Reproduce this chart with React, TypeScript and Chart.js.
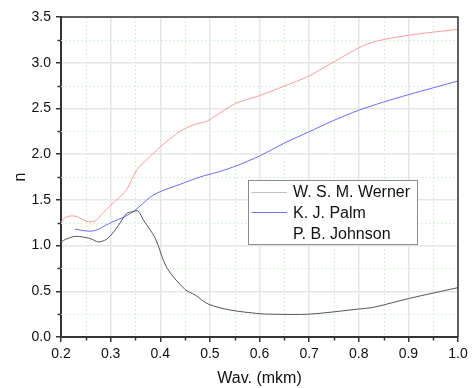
import React, { useEffect, useRef } from 'react';
import { Chart, registerables } from 'chart.js';

Chart.register(...registerables);

// ---- data ----
const seriesLabels = ['W. S. M. Werner', 'K. J. Palm', 'P. B. Johnson'];

const wernerX = [0.2, 0.21, 0.228, 0.248, 0.262, 0.275, 0.292, 0.312, 0.332, 0.345, 0.355, 0.366, 0.39, 0.413, 0.45, 0.47, 0.497, 0.541, 0.6, 0.62, 0.7, 0.8, 0.83, 0.9, 1.0];
const wernerN = [1.04, 1.07, 1.1, 1.09, 1.07, 1.04, 1.07, 1.19, 1.35, 1.37, 1.38, 1.28, 1.08, 0.76, 0.52, 0.46, 0.36, 0.295, 0.255, 0.25, 0.25, 0.306, 0.325, 0.42, 0.54];

const palmX = [0.228, 0.25, 0.265, 0.28, 0.3, 0.33, 0.35, 0.38, 0.4, 0.44, 0.48, 0.52, 0.557, 0.6, 0.65, 0.7, 0.75, 0.8, 0.85, 0.9, 1.0];
const palmN = [1.18, 1.16, 1.16, 1.19, 1.25, 1.32, 1.39, 1.53, 1.59, 1.67, 1.75, 1.81, 1.88, 1.98, 2.12, 2.245, 2.37, 2.48, 2.57, 2.65, 2.8];

const johnsonX = [0.2, 0.205, 0.215, 0.23, 0.245, 0.255, 0.269, 0.285, 0.3, 0.332, 0.353, 0.379, 0.4, 0.44, 0.467, 0.494, 0.52, 0.554, 0.6, 0.65, 0.7, 0.75, 0.82, 0.9, 1.0];
const johnsonN = [1.25, 1.29, 1.32, 1.32, 1.28, 1.26, 1.27, 1.36, 1.44, 1.61, 1.83, 1.97, 2.08, 2.25, 2.32, 2.36, 2.45, 2.56, 2.64, 2.745, 2.855, 3.01, 3.21, 3.3, 3.365];

const xMin = 0.2, xMax = 1.0, xStep = 0.1;
const yMin = 0, yMax = 3.5, yStep = 0.5;
const xTitle = 'Wav. (mkm)';
const yTitle = 'n';

const lineColors = ['#555555', '#6a6aff', '#ff9a9a'];
const legendSwatch = ['#c0c0c0', '#7070ff', 'rgba(255,255,255,0)'];

const FONT = "'Liberation Sans', Arial, sans-serif";

const toPoints = (xs: number[], ys: number[]) => xs.map((x, i) => ({ x, y: ys[i] }));

const framePlugin = {
  id: 'frameMinor',
  beforeDatasetsDraw(chart: any) {
    const { ctx, chartArea: a, scales } = chart;
    const xs = scales.x, ys = scales.y;
    ctx.save();
    ctx.strokeStyle = '#d6f2d6';
    ctx.lineWidth = 1;
    ctx.setLineDash([2, 2]);
    for (let v = xMin + xStep / 2; v < xMax; v += xStep) {
      const px = Math.round(xs.getPixelForValue(v)) + 0.5;
      ctx.beginPath(); ctx.moveTo(px, a.top); ctx.lineTo(px, a.bottom); ctx.stroke();
    }
    for (let v = yMin + yStep / 2; v < yMax; v += yStep) {
      const py = Math.round(ys.getPixelForValue(v)) + 0.5;
      ctx.beginPath(); ctx.moveTo(a.left, py); ctx.lineTo(a.right, py); ctx.stroke();
    }
    ctx.restore();
  },
  afterDatasetsDraw(chart: any) {
    const { ctx, chartArea: a, scales } = chart;
    const xs = scales.x, ys = scales.y;
    ctx.save();
    ctx.strokeStyle = '#333333';
    ctx.lineWidth = 1.5;
    ctx.setLineDash([]);
    // minor ticks
    for (let v = xMin + xStep / 2; v < xMax; v += xStep) {
      const px = Math.round(xs.getPixelForValue(v)) + 0.5;
      ctx.beginPath(); ctx.moveTo(px, a.bottom); ctx.lineTo(px, a.bottom + 3.5); ctx.stroke();
    }
    for (let v = yMin + yStep / 2; v < yMax; v += yStep) {
      const py = Math.round(ys.getPixelForValue(v)) + 0.5;
      ctx.beginPath(); ctx.moveTo(a.left, py); ctx.lineTo(a.left - 3.5, py); ctx.stroke();
    }
    // top & right frame
    ctx.beginPath();
    ctx.moveTo(a.left, a.top);
    ctx.lineTo(a.right, a.top);
    ctx.lineTo(a.right, a.bottom);
    ctx.stroke();
    ctx.restore();
  },
  afterDraw(chart: any) {
    const { ctx, chartArea: a } = chart;
    const w = a.right - a.left, h = a.bottom - a.top;
    const bx = a.left + w * 0.471, by = a.top + h * 0.51;
    const bw = w * 0.426, bh = h * 0.2;
    ctx.save();
    ctx.setLineDash([]);
    ctx.fillStyle = '#ffffff';
    ctx.fillRect(bx, by, bw, bh);
    ctx.strokeStyle = '#8c8c8c';
    ctx.lineWidth = 1;
    ctx.strokeRect(Math.round(bx) + 0.5, Math.round(by) + 0.5, Math.round(bw), Math.round(bh));
    ctx.font = `16px ${FONT}`;
    ctx.textBaseline = 'middle';
    ctx.fillStyle = '#111';
    chart.data.datasets.forEach((ds: any, i: number) => {
      const cy = by + 11.5 + i * 20.7;
      ctx.strokeStyle = legendSwatch[i];
      ctx.lineWidth = 1.2;
      ctx.beginPath();
      ctx.moveTo(bx + 3.5, Math.round(cy) + 0.5);
      ctx.lineTo(bx + 39, Math.round(cy) + 0.5);
      ctx.stroke();
      ctx.fillText(ds.label, bx + 45, cy + 1);
    });
    ctx.restore();
  },
};

export default function App() {
  const ref = useRef<HTMLCanvasElement | null>(null);

  useEffect(() => {
    if (!ref.current) return;
    Chart.defaults.font.family = FONT;
    Chart.defaults.color = '#111';
    const chart = new Chart(ref.current, {
      type: 'scatter',
      data: {
        datasets: [
          { label: seriesLabels[0], data: toPoints(wernerX, wernerN), borderColor: lineColors[0] },
          { label: seriesLabels[1], data: toPoints(palmX, palmN), borderColor: lineColors[1] },
          { label: seriesLabels[2], data: toPoints(johnsonX, johnsonN), borderColor: lineColors[2] },
        ].map((d) => ({ ...d, showLine: true, borderWidth: 1, pointRadius: 0, tension: 0.3, fill: false })),
      },
      options: {
        animation: false,
        responsive: false,
        devicePixelRatio: 1,
        layout: { padding: { left: 0, top: 17, right: 14, bottom: 0 } },
        plugins: { legend: { display: false }, tooltip: { enabled: false } },
        scales: {
          x: {
            type: 'linear',
            min: xMin,
            max: xMax,
            afterFit: (s: any) => { s.height = 51; },
            ticks: {
              stepSize: xStep,
              font: { size: 14 },
              padding: 4,
              callback: (v: any) => Number(v).toFixed(1),
            },
            grid: { color: '#e6e6e6', lineWidth: 1.5, tickColor: '#333', tickLength: 5, tickWidth: 1.5 },
            border: { color: '#333', width: 2 },
            title: { display: true, text: xTitle, font: { size: 16 }, padding: { top: 0, bottom: 0 } },
          },
          y: {
            type: 'linear',
            min: yMin,
            max: yMax,
            afterFit: (s: any) => { s.width = 61; },
            ticks: {
              stepSize: yStep,
              font: { size: 14 },
              padding: 5,
              callback: (v: any) => Number(v).toFixed(1),
            },
            grid: { color: '#e6e6e6', lineWidth: 1.5, tickColor: '#333', tickLength: 5, tickWidth: 1.5 },
            border: { color: '#333', width: 2 },
            title: { display: true, text: yTitle, font: { size: 16 }, padding: { top: 11, bottom: 0 } },
          },
        },
      },
      plugins: [framePlugin],
    } as any);
    return () => chart.destroy();
  }, []);

  return (
    <div style={{ position: 'absolute', left: 0, top: 0, width: 472, height: 388, background: '#fff' }}>
      <canvas ref={ref} width={472} height={388} />
    </div>
  );
}
